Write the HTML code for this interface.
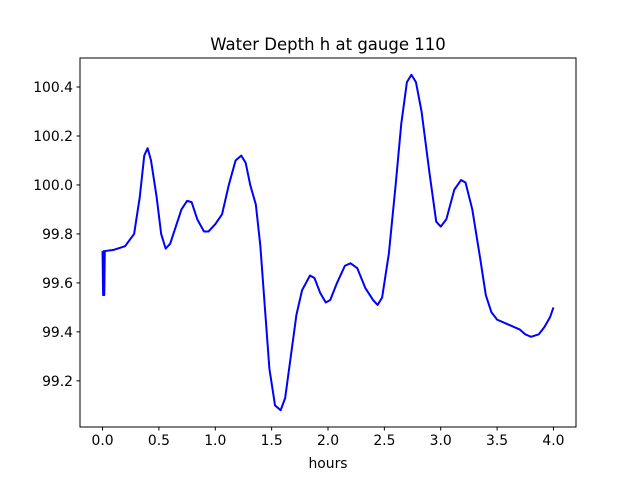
<!DOCTYPE html>
<html><head><meta charset="utf-8"><style>
body{margin:0;background:#fff;font-family:"DejaVu Sans","Liberation Sans",sans-serif;}
</style></head><body>
<svg id="chart" width="640" height="480" xmlns="http://www.w3.org/2000/svg">
<rect width="640" height="480" fill="#fff"/>
<text x="328" y="50" text-anchor="middle" font-size="16.5" fill="#000">Water Depth h at gauge 110</text>
<g id="ticks"></g>
<polyline id="line" fill="none" stroke="#0000ff" stroke-width="2" stroke-linejoin="round"/>
<rect x="80" y="58" width="496" height="369" fill="none" stroke="#000" stroke-width="1"/>
<text x="328" y="468" text-anchor="middle" font-size="13.9">hours</text>
</svg>
<script>
const times=[0,0.005,0.01,0.015,0.02,0.1,0.2,0.28,0.33,0.37,0.40,0.43,0.48,0.52,0.56,0.6,0.65,0.7,0.75,0.79,0.84,0.9,0.94,1.0,1.06,1.12,1.18,1.23,1.27,1.31,1.36,1.4,1.44,1.48,1.53,1.58,1.62,1.67,1.72,1.77,1.84,1.88,1.93,1.98,2.02,2.08,2.15,2.2,2.26,2.33,2.4,2.44,2.48,2.54,2.6,2.65,2.7,2.74,2.78,2.83,2.9,2.96,3.0,3.05,3.12,3.18,3.22,3.28,3.35,3.4,3.45,3.5,3.6,3.7,3.75,3.8,3.87,3.92,3.97,4.0];
const depths=[99.73,99.55,99.73,99.55,99.73,99.735,99.75,99.8,99.95,100.12,100.15,100.1,99.95,99.8,99.74,99.76,99.83,99.9,99.935,99.93,99.86,99.81,99.81,99.84,99.88,100.0,100.1,100.12,100.09,100.0,99.92,99.75,99.5,99.25,99.1,99.08,99.13,99.3,99.47,99.57,99.63,99.62,99.56,99.52,99.53,99.6,99.67,99.68,99.66,99.58,99.53,99.51,99.54,99.72,100.0,100.25,100.42,100.45,100.42,100.3,100.05,99.85,99.83,99.86,99.98,100.02,100.01,99.9,99.7,99.55,99.48,99.45,99.43,99.41,99.39,99.38,99.39,99.42,99.46,99.5];
const xTicks=[0,0.5,1,1.5,2,2.5,3,3.5,4];
const xTickLabels=["0.0","0.5","1.0","1.5","2.0","2.5","3.0","3.5","4.0"];
const yTicks=[99.2,99.4,99.6,99.8,100.0,100.2,100.4];
const yTickLabels=["99.2","99.4","99.6","99.8","100.0","100.2","100.4"];
const L=80,R=576,T=58,B=427;
const xmin=Math.min(...times),xmax=Math.max(...times),xp=(xmax-xmin)*0.05;
const ymin=Math.min(...depths),ymax=Math.max(...depths),yp=(ymax-ymin)*0.05;
const X=v=>L+(v-(xmin-xp))/((xmax+xp)-(xmin-xp))*(R-L);
const Y=v=>B-(v-(ymin-yp))/((ymax+yp)-(ymin-yp))*(B-T);
const NS="http://www.w3.org/2000/svg";
const line=document.getElementById('line');
line.setAttribute('points',times.map((t,i)=>X(t).toFixed(2)+','+Y(depths[i]).toFixed(2)).join(' '));
const g=document.getElementById('ticks');
xTicks.forEach((v,i)=>{
 const l=document.createElementNS(NS,'line');
 l.setAttribute('x1',X(v));l.setAttribute('x2',X(v));l.setAttribute('y1',B);l.setAttribute('y2',B+3.5);l.setAttribute('stroke','#000');
 
 
 g.appendChild(l);
 const t=document.createElementNS(NS,'text');
 t.setAttribute('x',X(v));t.setAttribute('y',B+18);t.setAttribute('text-anchor','middle');t.setAttribute('font-size','13.9');
 t.textContent=xTickLabels[i];
 
 
 g.appendChild(t);
});
yTicks.forEach((v,i)=>{
 const l=document.createElementNS(NS,'line');
 l.setAttribute('x1',L-3.5);l.setAttribute('x2',L);l.setAttribute('y1',Y(v));l.setAttribute('y2',Y(v));l.setAttribute('stroke','#000');
 
 
 g.appendChild(l);
 const t=document.createElementNS(NS,'text');
 t.setAttribute('x',L-7);t.setAttribute('y',Y(v)+5);t.setAttribute('text-anchor','end');t.setAttribute('font-size','13.9');
 t.textContent=yTickLabels[i];
 
 
 g.appendChild(t);
});
</script>
</body></html>
